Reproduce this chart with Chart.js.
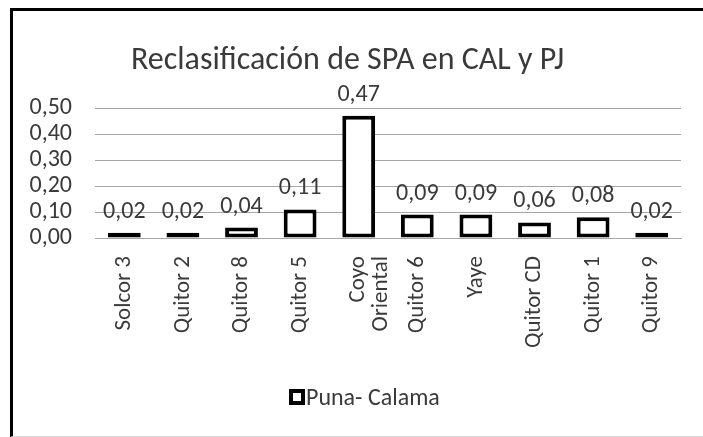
<!DOCTYPE html>
<html lang="es">
<head>
    <meta charset="UTF-8">
    <title>Reclasificación de SPA en CAL y PJ</title>
    <script src="https://cdn.jsdelivr.net/npm/chart.js"></script>
    <style>
        body { margin: 0; padding: 0; background: #fff; }
        .wrap { position: relative; width: 703px; height: 437px; }
        .frame { position: absolute; left: 10px; top: 8px; right: 0; bottom: 0; border-top: 3px solid #000; border-left: 3px solid #000; border-bottom: 1px solid #d9d9d9; pointer-events: none; }
        canvas { position: absolute; left: 0; top: 0; }
    </style>
</head>
<body>
    <div class="wrap">
        <canvas id="chart" width="703" height="437"></canvas>
        <div class="frame"></div>
    </div>
    <script>
    const chartTitle = 'Reclasificación de SPA en CAL y PJ';
    const seriesName = 'Puna- Calama';
    const categories = ['Solcor 3', 'Quitor 2', 'Quitor 8', 'Quitor 5', ['Coyo', 'Oriental'], 'Quitor 6', 'Yaye', 'Quitor CD', 'Quitor 1', 'Quitor 9'];
    const values = [0.02, 0.02, 0.04, 0.11, 0.47, 0.09, 0.09, 0.06, 0.08, 0.02];
    const yTicks = [0, 0.1, 0.2, 0.3, 0.4, 0.5];

    const FONT = "Carlito, Calibri, sans-serif";
    const TEXT = '#3a3a3a';
    const fmt = v => v.toFixed(2).replace('.', ',');

    // value labels, title and legend drawn by hand
    const extras = {
        id: 'extras',
        afterDatasetsDraw(chart) {
            const ctx = chart.ctx;
            const meta = chart.getDatasetMeta(0);
            ctx.save();
            ctx.fillStyle = TEXT;
            ctx.font = '24px ' + FONT;
            ctx.textAlign = 'center';
            ctx.textBaseline = 'alphabetic';
            meta.data.forEach((bar, i) => {
                ctx.fillText(fmt(values[i]), bar.x, bar.y - 15);
            });
            ctx.restore();
        },
        afterDraw(chart) {
            const ctx = chart.ctx;
            ctx.save();
            ctx.fillStyle = TEXT;
            ctx.font = '32px ' + FONT;
            ctx.textAlign = 'left';
            ctx.textBaseline = 'alphabetic';
            ctx.fillText(chartTitle, 131, 69);
            // legend
            ctx.strokeStyle = '#000';
            ctx.lineWidth = 4;
            ctx.fillStyle = '#fff';
            ctx.fillRect(291, 391, 12, 12);
            ctx.strokeRect(291, 391, 12, 12);
            ctx.fillStyle = TEXT;
            ctx.font = '24px ' + FONT;
            ctx.textAlign = 'left';
            ctx.fillText(seriesName, 306, 405);
            ctx.restore();
        }
    };

    new Chart(document.getElementById('chart'), {
        type: 'bar',
        data: {
            labels: categories,
            datasets: [{
                label: seriesName,
                data: values,
                backgroundColor: '#fff',
                borderColor: '#000',
                borderWidth: 4,
                borderSkipped: false,
                barPercentage: 0.56,
                categoryPercentage: 1
            }]
        },
        options: {
            responsive: false,
            animation: false,
            layout: { padding: { left: 0, right: 22, top: 108, bottom: 0 } },
            plugins: { legend: { display: false }, title: { display: false }, tooltip: { enabled: false } },
            scales: {
                x: {
                    grid: { display: false, drawTicks: false },
                    border: { display: true, color: '#a6a6a6', width: 1 },
                    ticks: { color: TEXT, font: { family: FONT, size: 23, lineHeight: 1.0 }, minRotation: 90, maxRotation: 90, padding: 18, autoSkip: false },
                    afterFit: s => { s.height = 199; }
                },
                y: {
                    min: 0,
                    max: 0.5,
                    afterBuildTicks: s => { s.ticks = yTicks.map(v => ({ value: v })); },
                    grid: { color: '#a6a6a6', drawTicks: false },
                    border: { display: false },
                    ticks: { color: TEXT, font: { family: FONT, size: 24 }, padding: 23, autoSkip: false, callback: v => fmt(v) },
                    afterFit: s => { s.width = 95; }
                }
            }
        },
        plugins: [extras]
    });
    </script>
</body>
</html>
